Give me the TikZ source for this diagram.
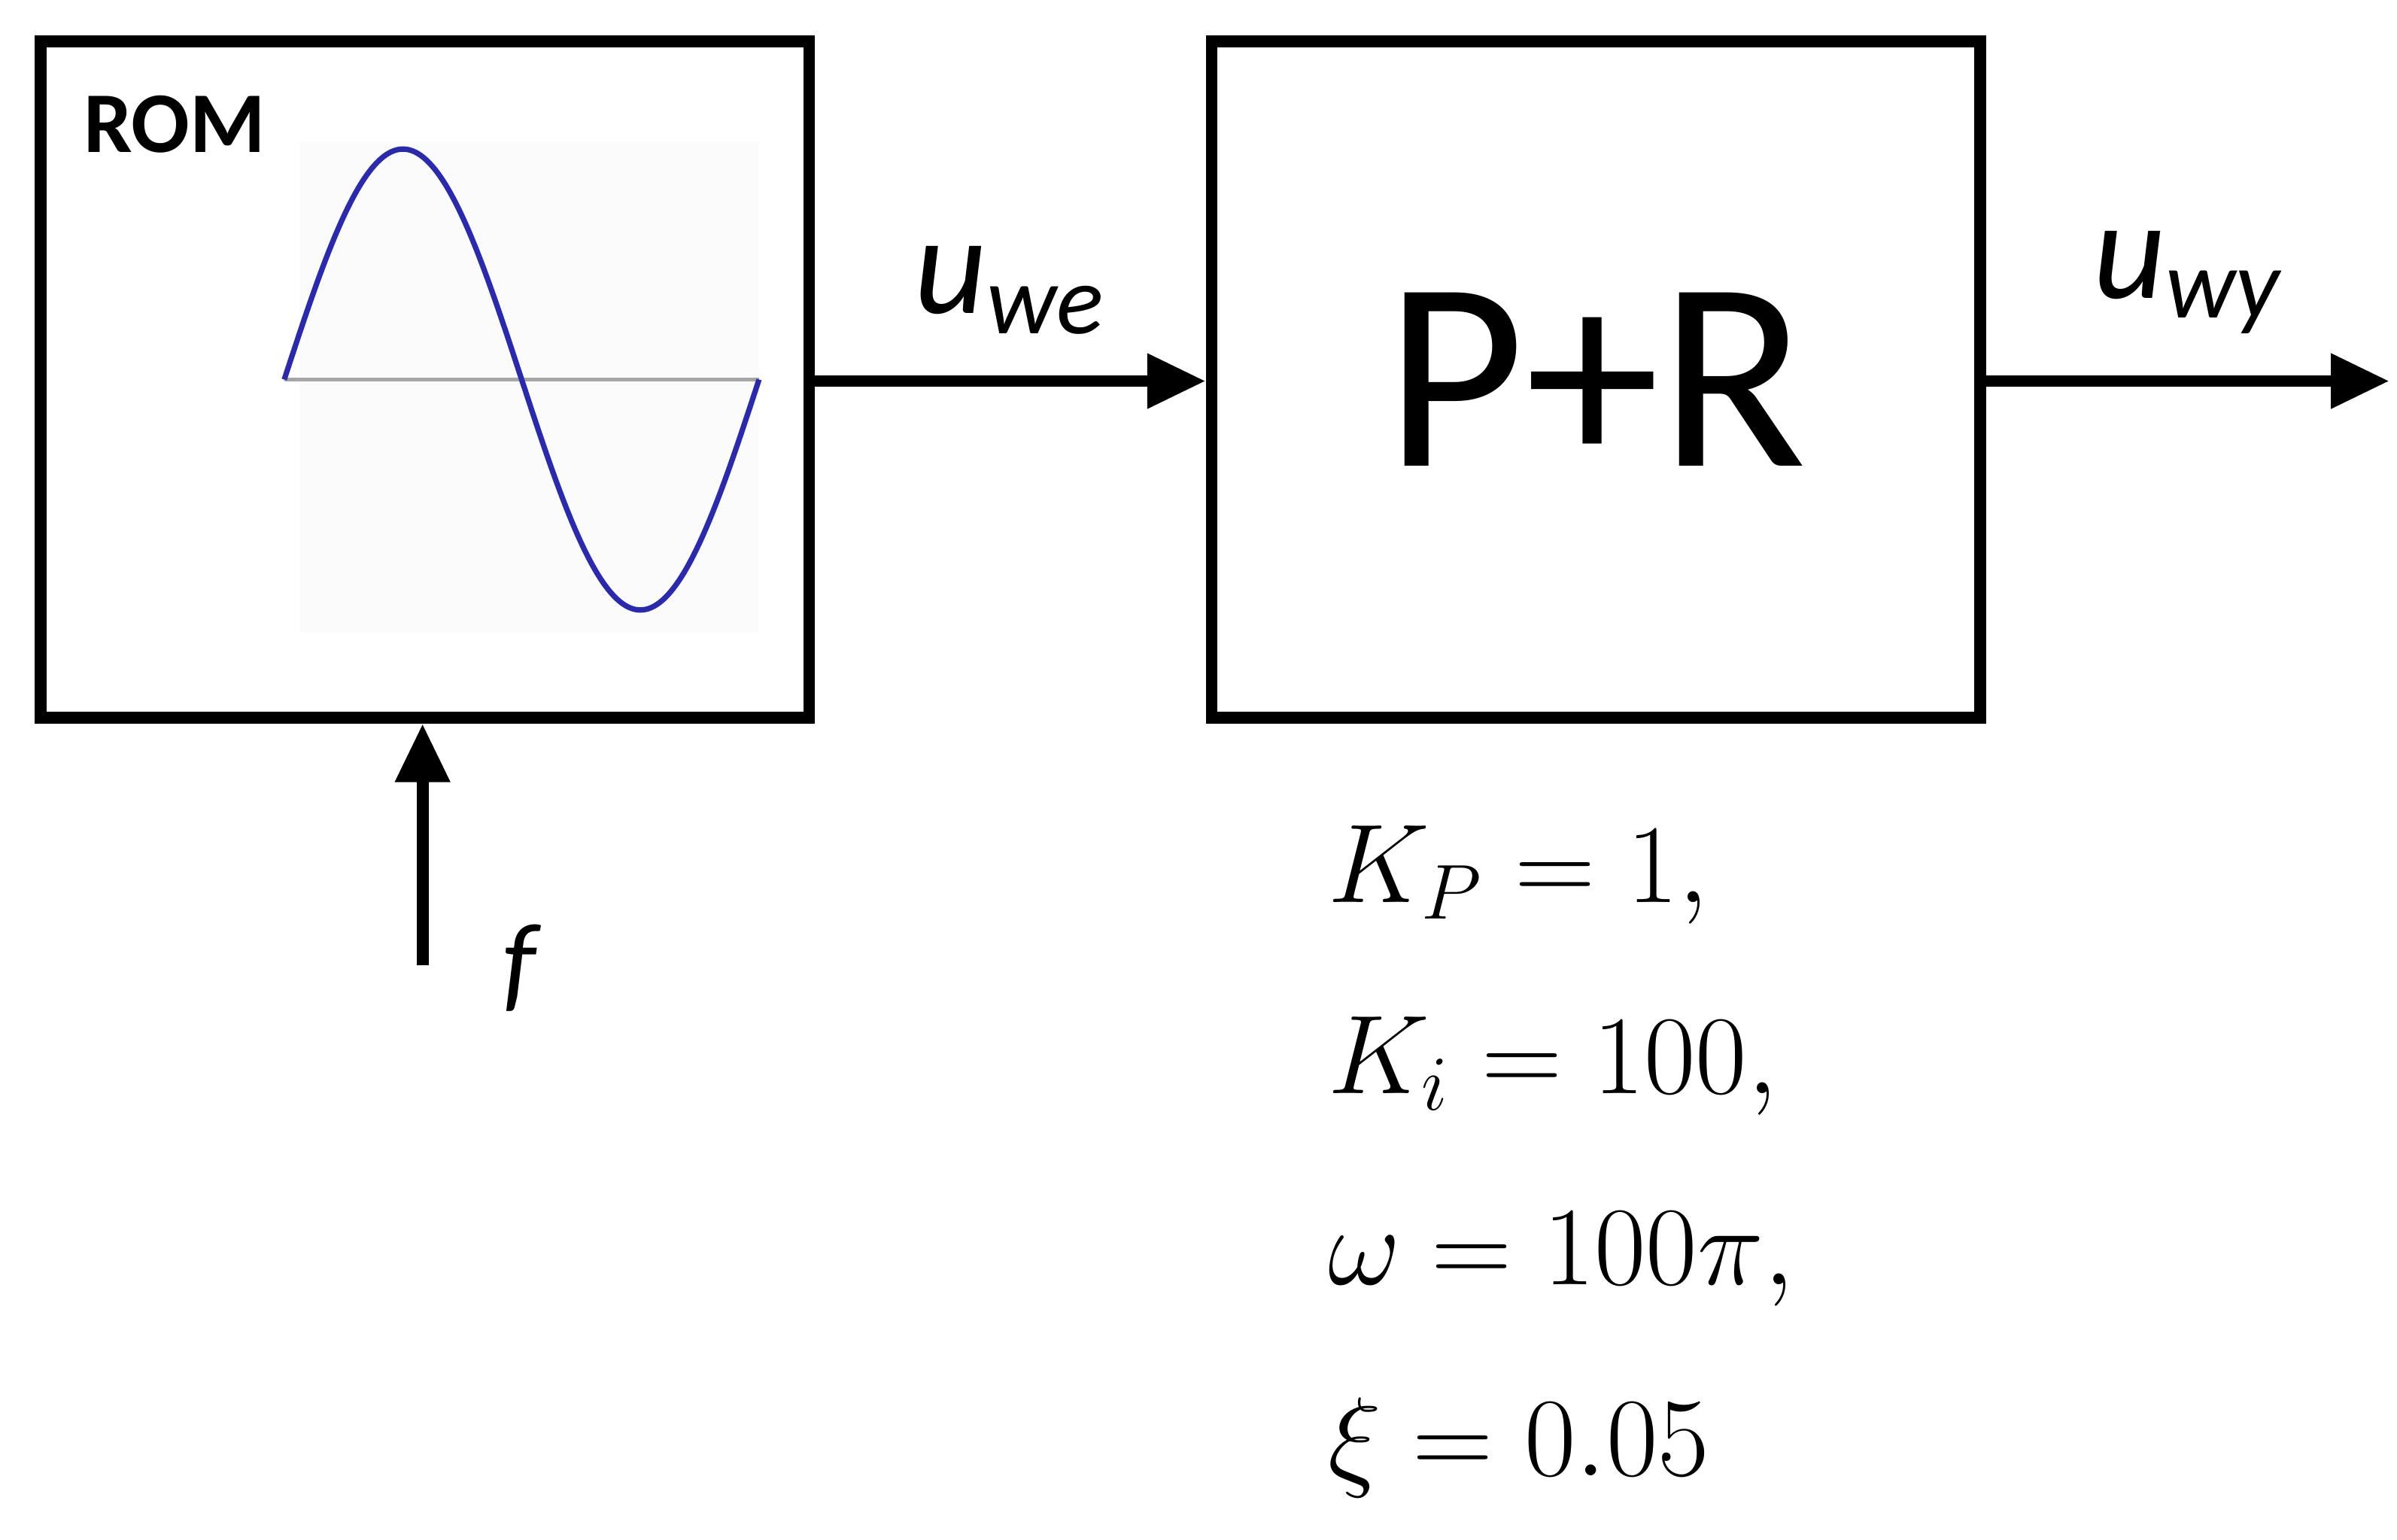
\documentclass[tikz,border=0pt]{standalone}
\usepackage{fontspec}
\setmainfont{Carlito}
\usetikzlibrary{arrows.meta,positioning}
\definecolor{sinblue}{HTML}{2A2AB0}
\tikzset{
  block/.style={draw=black, line width=2.2pt, minimum width=5.0cm, minimum height=4.4cm, inner sep=0pt},
  signal/.style={line width=2.2pt, -{Triangle[length=0.38cm, width=0.34cm]}},
  lbl/.style={font=\fontsize{26}{30}\selectfont\itshape}
}
\begin{document}
\begin{tikzpicture}[x=0.01cm, y=0.01cm]
    \useasboundingbox (0,0) rectangle (1560,-1002);
    \node[block] (rom) at (276.5,-247) {};
    \node[block, right=2.54cm of rom] (pr) {\fontsize{50}{56}\selectfont P+R};
    \node[anchor=north west, font=\fontsize{16}{18}\selectfont\bfseries] (romtxt) at (42,-50) {ROM};
    %
    \fill[gray!3] (195,-92) rectangle (494,-412);
    \draw[gray!70, line width=0.6pt] (185,-247) -- (494,-247);
    \draw[sinblue, line width=1pt, domain=0:360, samples=120, smooth]
        plot ({185+\x/360*309}, {-247+150*sin(\x)});
    %
    \coordinate (out) at (1555,-248);
    \coordinate (fin) at (275,-628);
    \draw[signal] (rom.east |- 0,-248) -- (pr.west |- 0,-248) node[lbl, midway, above=0.15cm] {u\textsubscript{we}};
    \draw[signal] (pr.east |- 0,-248) -- (out) node[lbl, midway, above=0.15cm] {u\textsubscript{wy}};
    \draw[signal] (fin) -- (rom.south -| fin);
    \node[anchor=west, font=\fontsize{20}{24}\selectfont\itshape] (flbl) at (315,-630) {f};
    %
    \node[anchor=north west, align=left, font=\fontsize{22}{26}\selectfont] (params) at (852,-525)
        {$K_P = 1,$\\[0.33cm] $K_i = 100,$\\[0.33cm] $\omega = 100\pi,$\\[0.33cm] $\xi = 0.05$};
\end{tikzpicture}
\end{document}
